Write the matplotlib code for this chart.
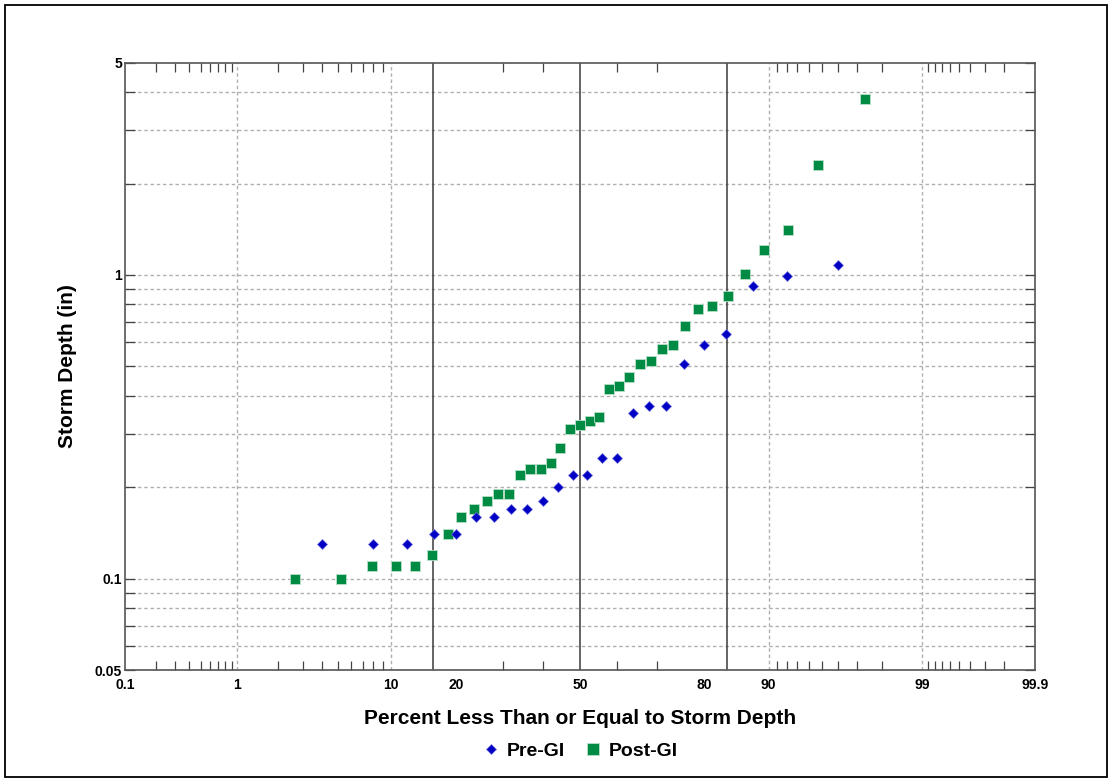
from statistics import NormalDist

import numpy as np
import matplotlib
matplotlib.use("Agg")
import matplotlib.pyplot as plt
from matplotlib.patches import Rectangle
from matplotlib.ticker import FixedLocator, FixedFormatter, NullFormatter

plt.rcParams['font.family'] = ['Liberation Sans', 'DejaVu Sans']
plt.rcParams['font.weight'] = 'bold'

# plotting positions (percent) and sorted storm depths (in)
pre_pct = [4, 8, 12, 16, 20, 24, 28, 32, 36, 40, 44, 48,
           52, 56, 60, 64, 68, 72, 76, 80, 84, 88, 92, 96]
pre_depth = [0.13, 0.13, 0.13, 0.14, 0.14, 0.16, 0.16, 0.17, 0.17, 0.18, 0.20, 0.22,
             0.22, 0.25, 0.25, 0.35, 0.37, 0.37, 0.51, 0.59, 0.64, 0.92, 0.99, 1.08]

post_pct = [2.63, 5.26, 7.89, 10.53, 13.16, 15.79, 18.42, 21.05, 23.68, 26.32,
            28.95, 31.58, 34.21, 36.84, 39.47, 42.11, 44.74, 47.37, 50.00, 52.63,
            55.26, 57.89, 60.53, 63.16, 65.79, 68.42, 71.05, 73.68, 76.32, 78.95,
            81.58, 84.21, 86.84, 89.47, 92.11, 94.74, 97.37]
post_depth = [0.10, 0.10, 0.11, 0.11, 0.11, 0.12, 0.14, 0.16, 0.17, 0.18,
              0.19, 0.19, 0.22, 0.23, 0.23, 0.24, 0.27, 0.31, 0.32, 0.33,
              0.34, 0.42, 0.43, 0.46, 0.51, 0.52, 0.57, 0.59, 0.68, 0.77,
              0.79, 0.85, 1.01, 1.21, 1.41, 2.30, 3.81]

x_major = [0.1, 1, 10, 20, 50, 80, 90, 99, 99.9]
x_labels = ['0.1', '1', '10', '20', '50', '80', '90', '99', '99.9']
x_minor = ([0.2, 0.3, 0.4, 0.5, 0.6, 0.7, 0.8, 0.9, 2, 3, 4, 5, 6, 7, 8, 9,
            30, 40, 60, 70, 80, 91, 92, 93, 94, 95, 96, 97, 98,
            99.1, 99.2, 99.3, 99.4, 99.5, 99.6, 99.7, 99.8])
x_grid = [1, 10, 90, 99]
x_sigma = [15.87, 50, 84.13]

y_major = [0.05, 0.1, 1, 5]
y_labels = ['0.05', '0.1', '1', '5']
y_minor = [0.06, 0.07, 0.08, 0.09, 0.2, 0.3, 0.4, 0.5, 0.6, 0.7, 0.8, 0.9, 2, 3, 4]

_nd = NormalDist()
_ppf = np.vectorize(_nd.inv_cdf, otypes=[float])
_cdf = np.vectorize(_nd.cdf, otypes=[float])


def prob_forward(p):
    p = np.clip(np.asarray(p, dtype=float), 1e-6, 100 - 1e-6)
    return _ppf(p / 100.0)


def prob_inverse(z):
    return _cdf(np.asarray(z, dtype=float)) * 100.0


fig = plt.figure(figsize=(11.12, 7.82), dpi=100)
ax = fig.add_axes([0.1124, 0.1432, 0.8183, 0.7766])

ax.set_xscale('function', functions=(prob_forward, prob_inverse))
ax.set_yscale('log')
ax.set_xlim(0.1, 99.9)
ax.set_ylim(0.05, 5)

grid_kw = dict(color='#b0b0b0', linewidth=1.0, linestyle=(0, (2.5, 2.0)), zorder=1)
for p in x_grid:
    ax.axvline(p, **grid_kw)
for v in [0.1, 1] + y_minor:
    ax.axhline(v, **grid_kw)
for p in x_sigma:
    ax.axvline(p, color='#3a3a3a', linewidth=1.1, zorder=2)

pre, = ax.plot(pre_pct, pre_depth, linestyle='none', marker='D', markersize=5.0,
               color='#0000c4', markeredgecolor='#6f6fe0', markeredgewidth=0.5,
               label='Pre-GI', zorder=4)
post, = ax.plot(post_pct, post_depth, linestyle='none', marker='s', markersize=7.4,
                color='#008b45', markeredgecolor='#b8e0c8', markeredgewidth=0.6,
                label='Post-GI', zorder=3)

ax.xaxis.set_major_locator(FixedLocator(x_major))
ax.xaxis.set_major_formatter(FixedFormatter(x_labels))
ax.xaxis.set_minor_locator(FixedLocator(x_minor))
ax.xaxis.set_minor_formatter(NullFormatter())
ax.yaxis.set_major_locator(FixedLocator(y_major))
ax.yaxis.set_major_formatter(FixedFormatter(y_labels))
ax.yaxis.set_minor_locator(FixedLocator(y_minor))
ax.yaxis.set_minor_formatter(NullFormatter())

ax.tick_params(axis='x', which='major', length=0, pad=6, labelsize=10)
ax.tick_params(axis='x', which='minor', direction='in', length=6.5, width=0.9,
               color='#444444', top=True, bottom=True)
ax.tick_params(axis='y', which='both', direction='in', length=7, width=0.9,
               color='#444444', left=True, right=True, labelsize=10, pad=2)
for lbl in ax.get_xticklabels() + ax.get_yticklabels():
    lbl.set_fontweight('bold')

for s in ax.spines.values():
    s.set_color('#555555')
    s.set_linewidth(1.2)

ax.set_xlabel('Percent Less Than or Equal to Storm Depth', fontsize=15,
              fontweight='bold', labelpad=12)
ax.set_ylabel('Storm Depth (in)', fontsize=15, fontweight='bold', labelpad=13)

leg = fig.legend(handles=[pre, post], loc='center', bbox_to_anchor=(0.522, 0.040),
                 ncol=2, frameon=False, prop={'size': 14, 'weight': 'bold'},
                 handlelength=0.8, handletextpad=0.45, columnspacing=1.0)
leg.legend_handles[0].set_markersize(4.8)
leg.legend_handles[1].set_markersize(9)

fig.patches.append(Rectangle((5 / 1112, 5 / 782), 1102 / 1112, 772 / 782,
                             transform=fig.transFigure, fill=False,
                             edgecolor='black', linewidth=1.3))

fig.savefig('out.png', dpi=100)
